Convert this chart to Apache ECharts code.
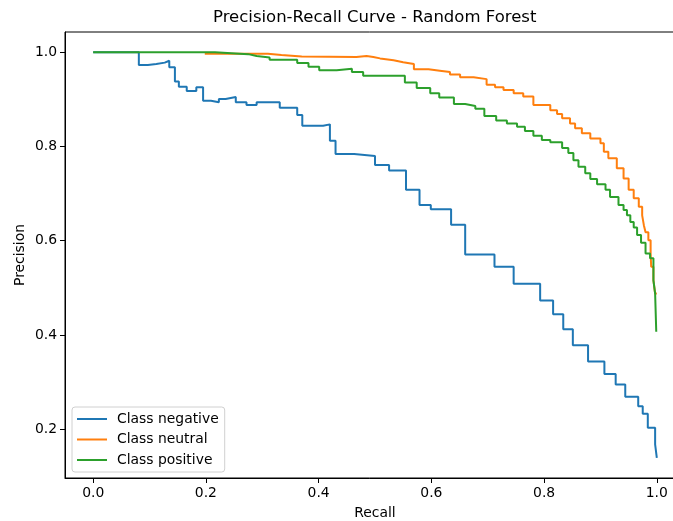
<!DOCTYPE html>
<html>
<head>
<meta charset="utf-8">
<script src="https://cdn.jsdelivr.net/npm/echarts@6/dist/echarts.min.js"></script>
<style>
  html, body { margin: 0; padding: 0; background: #fff; }
  #chart { width: 673px; height: 521px; }
</style>
</head>
<body>
<div id="chart"></div>
<script>
const classNames = ['Class negative', 'Class neutral', 'Class positive'];
const colors = ['#1f77b4', '#ff7f0e', '#2ca02c'];

const xTicks = [0, 0.2, 0.4, 0.6, 0.8, 1.0];
const yTicks = [0.2, 0.4, 0.6, 0.8, 1.0];

// each point starts a flat level, the curve drops at the next recall
const negativeRecall = [0, 0.081, 0.097, 0.112, 0.127, 0.135, 0.145, 0.152, 0.166, 0.183, 0.195, 0.209,
  0.223, 0.235, 0.253, 0.272, 0.290, 0.331, 0.362, 0.371, 0.408, 0.420, 0.430, 0.463, 0.500, 0.525,
  0.555, 0.579, 0.599, 0.635, 0.660, 0.712, 0.746, 0.793, 0.816, 0.834, 0.851, 0.878, 0.907, 0.927,
  0.944, 0.967, 0.975, 0.984, 0.997, 1.0];
const negativePrecision = [1.0, 0.973, 0.975, 0.978, 0.982, 0.968, 0.938, 0.927, 0.918, 0.926, 0.897, 0.894,
  0.901, 0.905, 0.894, 0.888, 0.894, 0.882, 0.867, 0.844, 0.847, 0.812, 0.784, 0.780, 0.761, 0.749,
  0.708, 0.676, 0.667, 0.634, 0.571, 0.545, 0.509, 0.473, 0.444, 0.412, 0.378, 0.344, 0.317, 0.295,
  0.269, 0.249, 0.233, 0.203, 0.168, 0.139];

const neutralRecall = [0.198, 0.310, 0.334, 0.370, 0.467, 0.485, 0.497, 0.509, 0.533, 0.550, 0.569, 0.595,
  0.615, 0.633, 0.651, 0.675, 0.698, 0.713, 0.728, 0.746, 0.763, 0.781, 0.811, 0.823, 0.832, 0.846,
  0.855, 0.867, 0.882, 0.900, 0.906, 0.914, 0.929, 0.941, 0.950, 0.959, 0.968, 0.974, 0.977, 0.980,
  0.985, 0.989, 0.990, 0.994, 0.997, 1.0];
const neutralPrecision = [0.997, 0.994, 0.991, 0.990, 0.992, 0.990, 0.987, 0.983, 0.979, 0.975, 0.964, 0.961,
  0.958, 0.953, 0.947, 0.943, 0.931, 0.926, 0.920, 0.913, 0.906, 0.888, 0.877, 0.869, 0.860, 0.849,
  0.839, 0.828, 0.817, 0.807, 0.789, 0.775, 0.754, 0.732, 0.708, 0.690, 0.672, 0.654, 0.633, 0.618,
  0.601, 0.573, 0.545, 0.516, 0.488, 0.488];

const positiveRecall = [0, 0.216, 0.275, 0.290, 0.313, 0.362, 0.382, 0.401, 0.432, 0.459, 0.479, 0.553,
  0.574, 0.598, 0.614, 0.640, 0.660, 0.678, 0.694, 0.715, 0.734, 0.752, 0.766, 0.781, 0.796, 0.811,
  0.832, 0.843, 0.852, 0.861, 0.873, 0.882, 0.894, 0.909, 0.917, 0.932, 0.941, 0.947, 0.953, 0.959,
  0.965, 0.972, 0.980, 0.988, 0.994, 0.997, 0.999];
const positivePrecision = [1.0, 0.996, 0.992, 0.989, 0.984, 0.977, 0.969, 0.962, 0.965, 0.958, 0.950, 0.936,
  0.924, 0.913, 0.904, 0.890, 0.886, 0.880, 0.865, 0.855, 0.849, 0.842, 0.833, 0.823, 0.814, 0.809,
  0.797, 0.786, 0.771, 0.757, 0.743, 0.731, 0.720, 0.708, 0.693, 0.676, 0.665, 0.654, 0.640, 0.628,
  0.612, 0.596, 0.573, 0.563, 0.516, 0.488, 0.407];

const curves = [
  [negativeRecall, negativePrecision],
  [neutralRecall, neutralPrecision],
  [positiveRecall, positivePrecision]
];

const font = 'DejaVu Sans';
const chart = echarts.init(document.getElementById('chart'));

chart.setOption({
  animation: false,
  backgroundColor: '#fff',
  title: {
    text: 'Precision-Recall Curve - Random Forest',
    left: 213,
    top: 9,
    padding: 0,
    textStyle: { fontFamily: font, fontSize: 16.5, fontWeight: 'normal', color: '#000' }
  },
  grid: {
    left: 65,
    top: 32,
    width: 620,
    height: 446,
    outerBoundsMode: 'none',
    show: true,
    borderColor: '#000',
    borderWidth: 1,
    backgroundColor: 'transparent'
  },
  legend: {
    orient: 'vertical',
    left: 72,
    top: 407,
    itemWidth: 30,
    itemHeight: 2,
    itemGap: 6.5,
    padding: [5, 6, 5, 5],
    backgroundColor: '#fff',
    borderColor: '#d0d0d0',
    borderWidth: 1,
    borderRadius: 3,
    icon: 'rect',
    data: classNames,
    textStyle: { fontFamily: font, fontSize: 13.9, color: '#000', padding: [0, 0, 0, 5] }
  },
  xAxis: {
    type: 'value',
    min: -0.05,
    max: 1.05,
    name: 'Recall',
    nameLocation: 'middle',
    nameGap: 28,
    nameTextStyle: { fontFamily: font, fontSize: 13.9, color: '#000' },
    axisLine: { onZero: false, lineStyle: { color: '#000', width: 1 } },
    axisTick: { show: true, customValues: xTicks, length: 5, lineStyle: { color: '#000' } },
    axisLabel: {
      customValues: xTicks,
      margin: 8,
      fontFamily: font,
      fontSize: 13.9,
      color: '#000',
      formatter: (v) => v.toFixed(1)
    },
    splitLine: { show: false }
  },
  yAxis: {
    type: 'value',
    min: 0.0965,
    max: 1.043,
    name: 'Precision',
    nameLocation: 'middle',
    nameGap: 38,
    nameMoveOverlap: false,
    nameTextStyle: { fontFamily: font, fontSize: 13.9, color: '#000' },
    axisLine: { show: true, onZero: false, lineStyle: { color: '#000', width: 1 } },
    axisTick: { show: true, customValues: yTicks, length: 5, lineStyle: { color: '#000' } },
    axisLabel: {
      customValues: yTicks,
      margin: 8,
      fontFamily: font,
      fontSize: 13.9,
      color: '#000',
      formatter: (v) => v.toFixed(1)
    },
    splitLine: { show: false }
  },
  series: curves.map(([recall, precision], i) => ({
    name: classNames[i],
    type: 'line',
    step: 'end',
    showSymbol: false,
    color: colors[i],
    lineStyle: { width: 2, color: colors[i] },
    data: recall.map((r, j) => [r, precision[j]])
  }))
});
</script>
</body>
</html>
